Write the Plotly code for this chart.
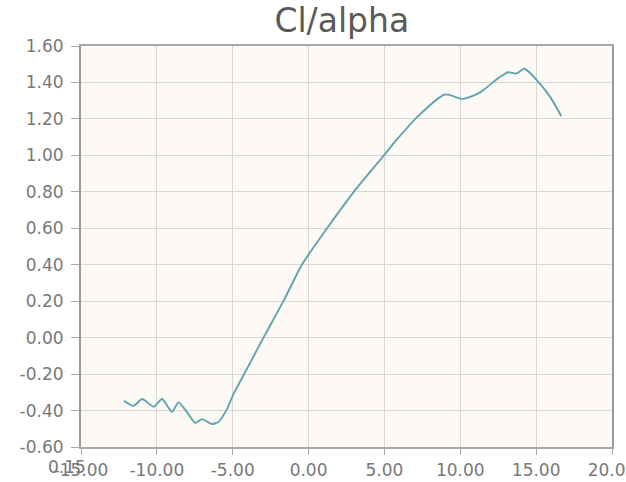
import plotly.graph_objects as go

# Lift coefficient vs angle of attack
alpha = [-12.18, -11.53, -10.97, -10.21, -9.66, -9.00, -8.57, -8.0, -7.47, -7.03,
         -6.37, -5.93, -5.38, -4.95, -4.07, -2.97, -1.66, -0.44, 1.22, 2.98,
         4.97, 5.85, 7.34, 8.98, 10.18, 11.28, 12.38, 12.71, 13.15, 13.7,
         14.24, 15.01, 15.89, 16.66]
cl = [-0.346, -0.374, -0.337, -0.379, -0.337, -0.407, -0.355, -0.41, -0.468, -0.447,
      -0.474, -0.461, -0.392, -0.31, -0.173, 0.0, 0.2, 0.4, 0.6, 0.8,
      1.0, 1.09, 1.225, 1.334, 1.31, 1.344, 1.416, 1.435, 1.456, 1.449,
      1.475, 1.416, 1.325, 1.215]

x_ticks = [-15, -10, -5, 0, 5, 10, 15, 20]
y_ticks = [-0.6, -0.4, -0.2, 0.0, 0.2, 0.4, 0.6, 0.8, 1.0, 1.2, 1.4, 1.6]

fig = go.Figure()
fig.add_trace(go.Scatter(
    x=alpha, y=cl, mode="lines",
    line=dict(color="#5fa4ae", width=1.9, shape="spline", smoothing=0.6),
    hoverinfo="x+y", showlegend=False,
))

tick_font = dict(family="DejaVu Sans", size=17, color="#787878")

fig.update_layout(
    width=626, height=482,
    margin=dict(l=81, r=14, t=46, b=35, autoexpand=False),
    paper_bgcolor="white",
    plot_bgcolor="#fdf9f4",
    title=dict(text="Cl/alpha", x=0.546, xanchor="center", y=0.958, yanchor="middle",
               font=dict(family="DejaVu Sans", size=33, color="#5a5a5a")),
    xaxis=dict(
        range=[-15, 20], tickvals=x_ticks,
        ticktext=[f"{v:.2f}" for v in x_ticks],
        tickfont=tick_font, ticks="outside", ticklen=6, tickcolor="#aaaaaa",
        ticklabelstandoff=1, ticklabeloverflow="allow", automargin=False,
        showgrid=True, gridcolor="#d6d6d6", gridwidth=1,
        showline=True, linecolor="#a8a8a8", linewidth=2, mirror=True,
        zeroline=False, fixedrange=True,
    ),
    yaxis=dict(
        range=[-0.6, 1.6], tickvals=y_ticks,
        ticktext=[f"{v:.2f}" for v in y_ticks],
        tickfont=tick_font, ticks="outside", ticklen=8, tickcolor="#aaaaaa",
        ticklabelstandoff=4, ticklabeloverflow="allow", automargin=False,
        showgrid=True, gridcolor="#d6d6d6", gridwidth=1,
        showline=True, linecolor="#9a9a9a", linewidth=2, mirror=True,
        zeroline=False, fixedrange=True,
    ),
)

# Stray value label drawn on top of the first x tick label
fig.add_annotation(text="0.15", xref="paper", yref="paper", x=0.0, y=0,
                   xshift=-14, yshift=-20, showarrow=False,
                   font=tick_font, xanchor="center", yanchor="middle")

fig.write_html("out.html")
